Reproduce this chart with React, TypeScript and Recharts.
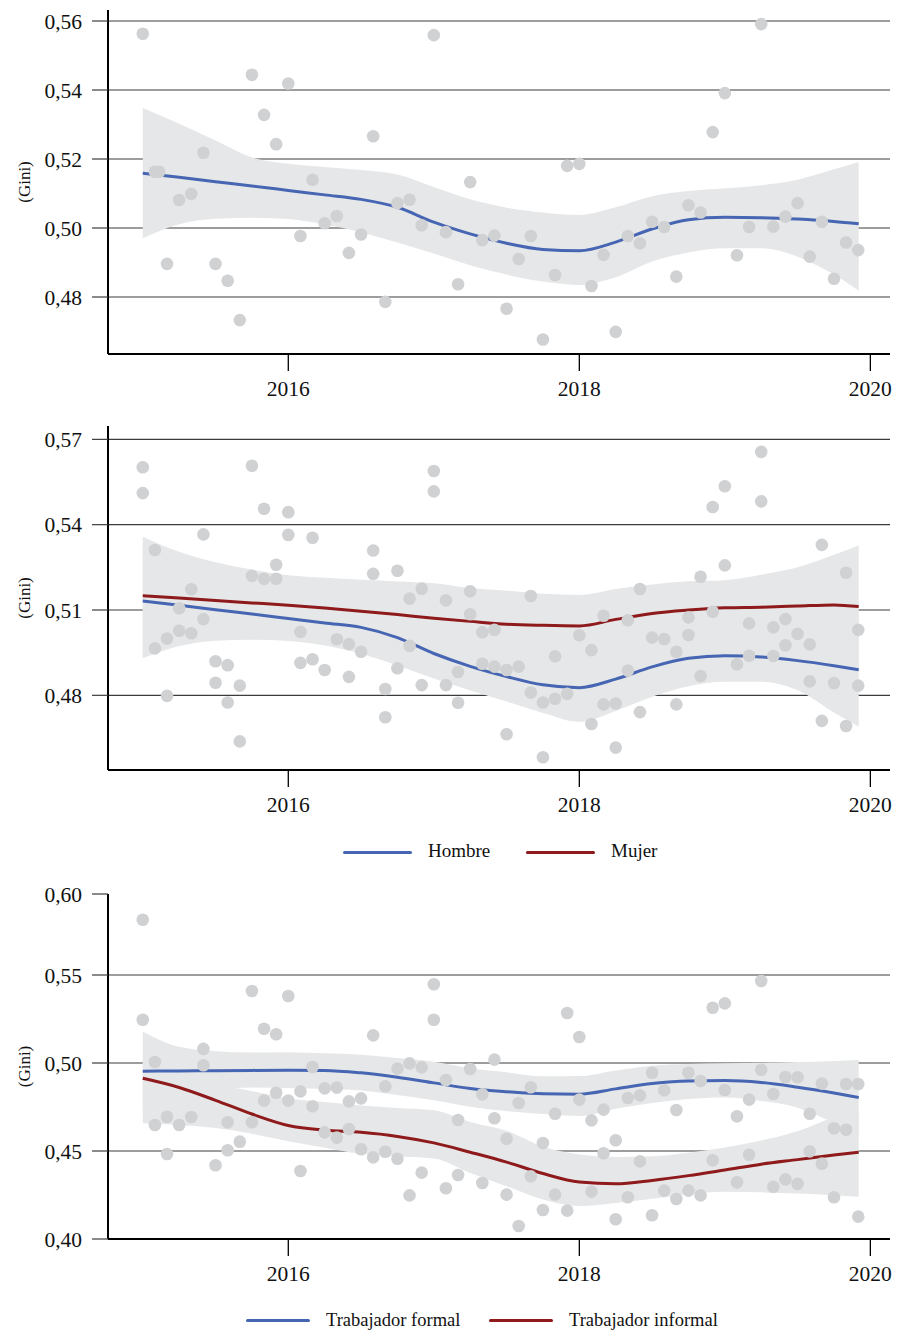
import { ComposedChart, XAxis, YAxis, CartesianGrid, Area, Line, Scatter } from 'recharts'

const FUENTE = '"Liberation Serif", serif'
const AZUL = '#4665b3'
const ROJO = '#8e1a1c'
const GRIS_PUNTO = '#d0d1d3'
const GRIS_BANDA = '#e6e7e8'

// ejes
const anios = [2016, 2018, 2020]
const rangoX = [2014.761, 2020.135]

// Panel 1: Gini total (meses desde enero 2015)
const mesesTotal = [0, 1, 1.35, 2, 3, 4, 5, 6, 7, 8, 9, 10, 11, 12, 13, 14, 15, 16, 17, 18, 19, 20, 21, 22, 23, 24, 25, 26, 27, 28, 29,
  30, 31, 32, 33, 34, 35, 36, 37, 38, 39, 40, 41, 42, 43, 44, 45, 46, 47, 48, 49, 50, 51, 52, 53, 54, 55, 56, 57, 58, 59]
const giniTotal = [0.5563, 0.5163, 0.5163, 0.4896, 0.5081, 0.5099, 0.5218, 0.4896, 0.4847, 0.4733, 0.5444, 0.5328, 0.5243, 0.5419,
  0.4977, 0.5140, 0.5014, 0.5035, 0.4928, 0.4981, 0.5266, 0.4786, 0.5072, 0.5082, 0.5008, 0.5559, 0.4988, 0.4837, 0.5133, 0.4965,
  0.4978, 0.4766, 0.4910, 0.4977, 0.4677, 0.4864, 0.5180, 0.5186, 0.4832, 0.4922, 0.4699, 0.4977, 0.4956, 0.5018, 0.5003, 0.4859,
  0.5066, 0.5045, 0.5278, 0.5391, 0.4921, 0.5003, 0.5591, 0.5004, 0.5033, 0.5072, 0.4917, 0.5018, 0.4853, 0.4958, 0.4936]

// Panel 2: Hombre / Mujer (dos puntos por mes, 0..59)
const giniSexoA = [0.5602, 0.5311, 0.5000, 0.5106, 0.5173, 0.5366, 0.4920, 0.4906, 0.4834, 0.5607, 0.5456, 0.5259, 0.5444, 0.5023,
  0.5354, 0.4889, 0.4997, 0.4980, 0.4953, 0.5309, 0.4822, 0.5238, 0.5140, 0.5175, 0.5589, 0.5134, 0.4882, 0.5166, 0.5022, 0.5030,
  0.4889, 0.4901, 0.5149, 0.4775, 0.4937, 0.4805, 0.5011, 0.4959, 0.5080, 0.4771, 0.5064, 0.5174, 0.5003, 0.4998, 0.4953, 0.5074,
  0.5217, 0.5462, 0.5535, 0.4909, 0.5053, 0.5656, 0.5039, 0.5068, 0.5016, 0.4979, 0.5329, 0.4843, 0.5231, 0.5030]
const giniSexoB = [0.5511, 0.4965, 0.4798, 0.5027, 0.5018, 0.5068, 0.4844, 0.4775, 0.4638, 0.5220, 0.5210, 0.5210, 0.5364, 0.4914,
  0.4927, null, null, 0.4865, null, 0.5227, 0.4723, 0.4895, 0.4974, 0.4836, 0.5517, 0.4836, 0.4774, 0.5085, 0.4911, 0.4901,
  0.4663, null, 0.4810, 0.4582, 0.4788, null, null, 0.4699, 0.4768, 0.4616, 0.4887, 0.4741, null, null, 0.4768, 0.5012,
  0.4868, 0.5094, 0.5257, null, 0.4939, 0.5482, 0.4938, 0.4976, null, 0.4849, 0.4710, null, 0.4692, 0.4834]

// Panel 3: Trabajador formal / informal
const giniEmpleoA = [0.5814, 0.5006, 0.4695, 0.4648, 0.4693, 0.5080, 0.4419, 0.4663, 0.4553, 0.5409, 0.5195, 0.5163, 0.5381, 0.4839,
  0.4977, 0.4856, 0.4860, 0.4782, 0.4799, 0.5157, 0.4867, 0.4968, 0.4998, 0.4975, 0.5447, 0.4903, 0.4676, 0.4966, 0.4822, 0.5019,
  0.4570, 0.4773, 0.4862, 0.4545, 0.4712, 0.5284, 0.5148, 0.4674, 0.4735, 0.4561, 0.4801, 0.4816, 0.4945, 0.4845, 0.4733, 0.4945,
  0.4898, 0.5314, 0.5339, 0.4697, 0.4792, 0.5466, 0.4824, 0.4920, 0.4919, 0.4712, 0.4883, 0.4629, 0.4881, 0.4881]
const giniEmpleoB = [0.5246, 0.4648, 0.4483, null, null, 0.4987, null, 0.4504, null, 0.4663, 0.4786, 0.4831, 0.4786, 0.4386,
  0.4754, 0.4606, 0.4576, 0.4625, 0.4510, 0.4464, 0.4496, 0.4456, 0.4248, 0.4377, 0.5246, 0.4288, 0.4364, null, 0.4318, 0.4686,
  0.4252, 0.4074, 0.4356, 0.4165, 0.4252, 0.4161, 0.4792, 0.4269, 0.4487, 0.4112, 0.4237, 0.4441, 0.4135, 0.4275, 0.4227, 0.4275,
  0.4248, 0.4447, 0.4847, 0.4322, 0.4479, 0.4962, 0.4297, 0.4339, 0.4313, 0.4498, 0.4428, 0.4237, 0.4621, 0.4127]

// curvas suavizadas e intervalos
const tSuave = [2015.0, 2015.25, 2015.5, 2015.75, 2016.0, 2016.25, 2016.5, 2016.75, 2017.0, 2017.25, 2017.5,
  2017.75, 2018.0, 2018.25, 2018.5, 2018.75, 2019.0, 2019.25, 2019.5, 2019.75, 2019.92]

const ajusteTotal = [0.5159, 0.5147, 0.5134, 0.5122, 0.5109, 0.5096, 0.5083, 0.5060, 0.5017, 0.4983, 0.4956,
  0.4938, 0.4934, 0.4959, 0.4997, 0.5024, 0.5031, 0.5030, 0.5026, 0.5019, 0.5012]
const infTotal = [0.4970, 0.5011, 0.5027, 0.5030, 0.5026, 0.5010, 0.4988, 0.4958, 0.4926, 0.4892, 0.4865,
  0.4845, 0.4835, 0.4857, 0.4903, 0.4929, 0.4941, 0.4941, 0.4917, 0.4865, 0.4818]
const supTotal = [0.5348, 0.5302, 0.5254, 0.5205, 0.5186, 0.5177, 0.5168, 0.5155, 0.5119, 0.5083, 0.5059,
  0.5045, 0.5038, 0.5060, 0.5092, 0.5107, 0.5115, 0.5124, 0.5140, 0.5170, 0.5191]

const ajusteHombre = [0.5132, 0.5117, 0.5101, 0.5086, 0.5070, 0.5054, 0.5039, 0.5003, 0.4947, 0.4902, 0.4866,
  0.4837, 0.4827, 0.4857, 0.4900, 0.4930, 0.4939, 0.4935, 0.4922, 0.4904, 0.4890]
const infHombre = [0.4930, 0.4973, 0.4992, 0.4995, 0.4991, 0.4975, 0.4946, 0.4905, 0.4859, 0.4817, 0.4778,
  0.4738, 0.4707, 0.4745, 0.4795, 0.4832, 0.4848, 0.4848, 0.4818, 0.4740, 0.4690]
const supHombre = [0.5334, 0.5261, 0.5210, 0.5177, 0.5149, 0.5133, 0.5132, 0.5101, 0.5035, 0.4987, 0.4954,
  0.4936, 0.4947, 0.4969, 0.5005, 0.5028, 0.5030, 0.5022, 0.5026, 0.5068, 0.5090]

const ajusteMujer = [0.5150, 0.5142, 0.5133, 0.5125, 0.5117, 0.5107, 0.5096, 0.5084, 0.5071, 0.5060, 0.5050,
  0.5046, 0.5044, 0.5067, 0.5088, 0.5100, 0.5108, 0.5110, 0.5114, 0.5118, 0.5112]
const infMujer = [0.4942, 0.4979, 0.4998, 0.5008, 0.5012, 0.5001, 0.4986, 0.4968, 0.4948, 0.4943, 0.4932,
  0.4935, 0.4935, 0.4960, 0.4986, 0.4999, 0.5011, 0.4996, 0.4978, 0.4942, 0.4897]
const supMujer = [0.5358, 0.5305, 0.5268, 0.5242, 0.5222, 0.5213, 0.5206, 0.5200, 0.5194, 0.5177, 0.5168,
  0.5157, 0.5153, 0.5174, 0.5190, 0.5201, 0.5205, 0.5224, 0.5250, 0.5294, 0.5327]

const ajusteFormal = [0.4953, 0.4955, 0.4956, 0.4958, 0.4959, 0.4958, 0.4944, 0.4919, 0.4887, 0.4855, 0.4837,
  0.4825, 0.4823, 0.4853, 0.4883, 0.4898, 0.4900, 0.4889, 0.4862, 0.4829, 0.4804]
const infFormal = [0.4733, 0.4802, 0.4847, 0.4861, 0.4858, 0.4852, 0.4844, 0.4818, 0.4789, 0.4752, 0.4727,
  0.4710, 0.4699, 0.4740, 0.4773, 0.4795, 0.4804, 0.4784, 0.4746, 0.4660, 0.4600]
const supFormal = [0.5178, 0.5092, 0.5067, 0.5059, 0.5061, 0.5055, 0.5047, 0.5028, 0.5007, 0.4970, 0.4947,
  0.4924, 0.4926, 0.4958, 0.4985, 0.4995, 0.4998, 0.5001, 0.5005, 0.5012, 0.5017]

const ajusteInformal = [0.4913, 0.4861, 0.4788, 0.4710, 0.4645, 0.4618, 0.4606, 0.4583, 0.4546, 0.4493, 0.4437,
  0.4372, 0.4324, 0.4314, 0.4333, 0.4360, 0.4392, 0.4425, 0.4451, 0.4477, 0.4493]
const infInformal = [0.4657, 0.4648, 0.4630, 0.4598, 0.4556, 0.4519, 0.4484, 0.4470, 0.4457, 0.4375, 0.4300,
  0.4225, 0.4188, 0.4205, 0.4228, 0.4254, 0.4268, 0.4265, 0.4258, 0.4248, 0.4240]
const supInformal = [0.5000, 0.4940, 0.4880, 0.4840, 0.4800, 0.4778, 0.4759, 0.4745, 0.4732, 0.4665, 0.4615,
  0.4525, 0.4480, 0.4466, 0.4470, 0.4490, 0.4520, 0.4560, 0.4612, 0.4690, 0.4720]

type Fila = { t: number; v?: number; ajuste?: number; banda?: [number, number] }

const puntos = (meses: number[], ...series: (number | null)[][]): Fila[] => {
  const filas: Fila[] = []
  series.forEach((s) => s.forEach((v, i) => {
    if (v != null) filas.push({ t: 2015 + meses[i] / 12, v })
  }))
  return filas
}

const curva = (ajuste: number[], inf: number[], sup: number[]): Fila[] =>
  tSuave.map((t, i) => ({ t, ajuste: ajuste[i], banda: [inf[i], sup[i]] }))

const meses60 = Array.from({ length: 60 }, (_, i) => i)
const fmt = (v: number) => v.toFixed(2).replace('.', ',')

interface Serie { nombre: string; color: string; filas: Fila[] }

interface PanelProps {
  top: number
  height: number
  margin: { top: number; bottom: number }
  dominioY: [number, number]
  ticksY: number[]
  grilla: number[]
  datos: Fila[]
  series: Serie[]
}

function Panel({ top, height, margin, dominioY, ticksY, grilla, datos, series }: PanelProps) {
  return (
    <div style={{ position: 'absolute', left: 0, top }}>
      <ComposedChart width={897} height={height}
        margin={{ top: margin.top, right: 7, left: 0, bottom: margin.bottom }}>
        <CartesianGrid vertical={false} horizontalValues={grilla} stroke="#3c3c3c" strokeWidth={1.2} />
        <XAxis dataKey="t" type="number" domain={rangoX} allowDataOverflow ticks={anios} interval={0}
          height={50} tickSize={17} tickMargin={10}
          axisLine={{ stroke: '#000', strokeWidth: 2 }} tickLine={{ stroke: '#000', strokeWidth: 1.3 }}
          tick={{ fill: '#111', fontSize: 21.5, fontFamily: FUENTE }} />
        <YAxis type="number" domain={dominioY} allowDataOverflow ticks={ticksY} interval={0}
          tickFormatter={fmt} width={108} tickSize={16} tickMargin={10}
          axisLine={{ stroke: '#000', strokeWidth: 2 }} tickLine={{ stroke: '#3c3c3c', strokeWidth: 1.2 }}
          tick={{ fill: '#111', fontSize: 21.5, fontFamily: FUENTE }}
          label={{ value: '(Gini)', angle: -90, position: 'insideLeft', offset: 24,
            style: { textAnchor: 'middle', fontSize: 17, fontFamily: FUENTE, fill: '#111' } }} />
        {series.map((s) => (
          <Area key={'b' + s.nombre} data={s.filas} dataKey="banda" type="monotone" stroke="none"
            fill={GRIS_BANDA} fillOpacity={1} legendType="none" dot={false} activeDot={false}
            isAnimationActive={false} />
        ))}
        {series.map((s) => (
          <Line key={'l' + s.nombre} data={s.filas} dataKey="ajuste" name={s.nombre} type="monotone"
            stroke={s.color} strokeWidth={3} dot={false} activeDot={false} isAnimationActive={false} />
        ))}
        <Scatter data={datos} dataKey="v" legendType="none" isAnimationActive={false}
          shape={(p: any) => <circle cx={p.cx} cy={p.cy} r={6.3} fill={GRIS_PUNTO} />} />
      </ComposedChart>
    </div>
  )
}

function Leyenda({ top, items, size }: { top: number; items: { nombre: string; color: string; x: number; texto: number }[]; size: number }) {
  return (
    <>
      {items.map((it) => (
        <div key={it.nombre}>
          <div style={{ position: 'absolute', left: it.x, top: top - 1.5, width: it.texto - it.x - 16, height: 3,
            background: it.color, borderRadius: 1.5 }} />
          <div style={{ position: 'absolute', left: it.texto, top: top - size * 0.62, fontSize: size,
            fontFamily: FUENTE, color: '#111', lineHeight: 1.2, whiteSpace: 'nowrap' }}>{it.nombre}</div>
        </div>
      ))}
    </>
  )
}

export default function App() {
  const datos1 = puntos(mesesTotal, giniTotal)
  const datos2 = puntos(meses60, giniSexoA, giniSexoB)
  const datos3 = puntos(meses60, giniEmpleoA, giniEmpleoB)

  return (
    <div style={{ position: 'absolute', left: 0, top: 0, width: 897, height: 1332, background: '#fff', overflow: 'hidden' }}>
      <Panel top={0} height={410} margin={{ top: 10, bottom: 6 }}
        dominioY={[0.46348, 0.56319]} ticksY={[0.48, 0.50, 0.52, 0.54, 0.56]} grilla={[0.48, 0.50, 0.52, 0.54, 0.56]}
        datos={datos1}
        series={[{ nombre: 'Total', color: AZUL, filas: curva(ajusteTotal, infTotal, supTotal) }]} />
      <Panel top={410} height={465} margin={{ top: 16, bottom: 55 }}
        dominioY={[0.45374, 0.5747]} ticksY={[0.48, 0.51, 0.54, 0.57]} grilla={[0.48, 0.51, 0.54, 0.57]}
        datos={datos2}
        series={[
          { nombre: 'Hombre', color: AZUL, filas: curva(ajusteHombre, infHombre, supHombre) },
          { nombre: 'Mujer', color: ROJO, filas: curva(ajusteMujer, infMujer, supMujer) },
        ]} />
      <Leyenda top={852} size={19} items={[
        { nombre: 'Hombre', color: AZUL, x: 343, texto: 428 },
        { nombre: 'Mujer', color: ROJO, x: 526, texto: 611 },
      ]} />
      <Panel top={875} height={457} margin={{ top: 19, bottom: 43 }}
        dominioY={[0.40, 0.59602]} ticksY={[0.40, 0.45, 0.50, 0.55, 0.59602]} grilla={[0.45, 0.50, 0.55]}
        datos={datos3}
        series={[
          { nombre: 'Trabajador formal', color: AZUL, filas: curva(ajusteFormal, infFormal, supFormal) },
          { nombre: 'Trabajador informal', color: ROJO, filas: curva(ajusteInformal, infInformal, supInformal) },
        ]} />
      <Leyenda top={1320} size={18.5} items={[
        { nombre: 'Trabajador formal', color: AZUL, x: 246, texto: 326 },
        { nombre: 'Trabajador informal', color: ROJO, x: 489, texto: 569 },
      ]} />
    </div>
  )
}
